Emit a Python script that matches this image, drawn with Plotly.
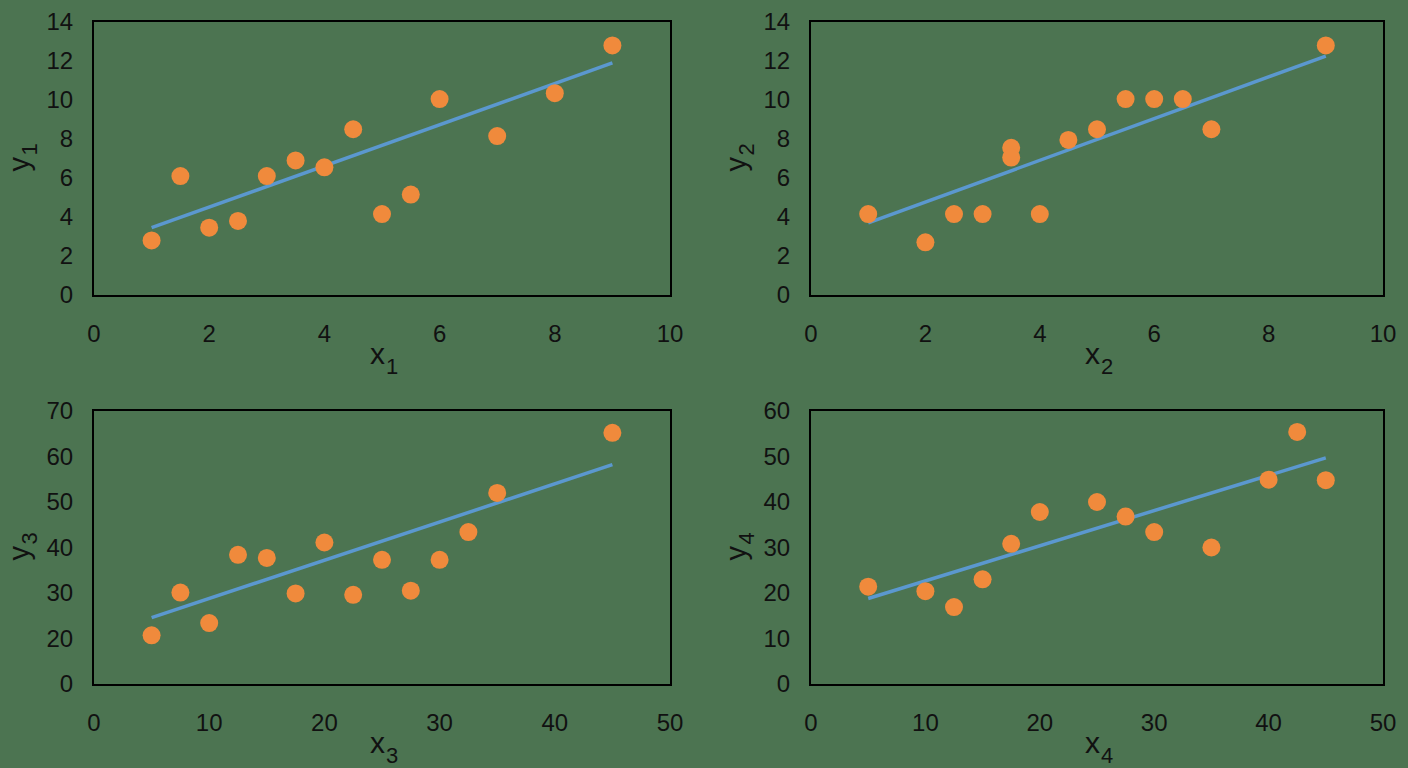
import plotly.graph_objects as go

# ---- data ----
x1 = [1, 1.5, 2, 2.5, 3, 3.5, 4, 4.5, 5, 5.5, 6, 7, 8, 9]
y1 = [2.8, 6.1, 3.45, 3.8, 6.1, 6.9, 6.55, 8.5, 4.15, 5.15, 10.05, 8.15, 10.35, 12.8]
trend_x1 = [1, 9]
trend_y1 = [3.45, 11.9]

x2 = [1, 2, 2.5, 3, 3.5, 3.5, 4, 4.5, 5, 5.5, 6, 6.5, 7, 9]
y2 = [4.15, 2.7, 4.15, 4.15, 7.55, 7.05, 4.15, 7.95, 8.5, 10.05, 10.05, 10.05, 8.5, 12.8]
trend_x2 = [1, 9]
trend_y2 = [3.7, 12.25]

x3 = [5, 7.5, 10, 12.5, 15, 17.5, 20, 22.5, 25, 27.5, 30, 32.5, 35, 45]
y3 = [20.7, 30.1, 23.4, 38.4, 37.7, 29.9, 41.1, 29.6, 37.3, 30.5, 37.3, 43.4, 52.0, 65.2]
trend_x3 = [5, 45]
trend_y3 = [24.6, 58.2]

x4 = [5, 10, 12.5, 15, 17.5, 20, 25, 27.5, 30, 35, 40, 42.5, 45]
y4 = [21.4, 20.4, 16.9, 23.0, 30.8, 37.8, 40.0, 36.8, 33.4, 30.0, 44.9, 55.4, 44.8]
trend_x4 = [5, 45]
trend_y4 = [18.8, 49.7]

x_letters = ["x", "x", "x", "x"]
y_letters = ["y", "y", "y", "y"]
subscripts = ["1", "2", "3", "4"]

x_ranges = [[0, 10], [0, 10], [0, 50], [0, 50]]
x_dticks = [2, 2, 10, 10]
y_ranges = [[0, 14], [0, 14], [10, 70], [0, 60]]
y_tickvals = [
    [0, 2, 4, 6, 8, 10, 12, 14],
    [0, 2, 4, 6, 8, 10, 12, 14],
    [10, 20, 30, 40, 50, 60, 70],
    [0, 10, 20, 30, 40, 50, 60],
]
y_ticktext = [
    ["0", "2", "4", "6", "8", "10", "12", "14"],
    ["0", "2", "4", "6", "8", "10", "12", "14"],
    ["0", "20", "30", "40", "50", "60", "70"],
    ["0", "10", "20", "30", "40", "50", "60"],
]

# ---- styling ----
BG = "#4c7451"
ORANGE = "#f08a3c"
BLUE = "#5b98cf"
INK = "#111111"
FONT = "Liberation Sans, Arial, sans-serif"

W, H = 1408, 768
boxes = [  # left, right, top, bottom in pixels
    (94, 670, 22, 295),
    (811, 1383, 22, 295),
    (94, 670, 411, 684),
    (811, 1383, 411, 684),
]
ytitle_base_x = [0, 717, 0, 717]

fig = go.Figure()
series = [(x1, y1, trend_x1, trend_y1), (x2, y2, trend_x2, trend_y2),
          (x3, y3, trend_x3, trend_y3), (x4, y4, trend_x4, trend_y4)]

for i, (xs, ys, tx, ty) in enumerate(series):
    n = "" if i == 0 else str(i + 1)
    fig.add_trace(go.Scatter(x=tx, y=ty, mode="lines",
                             line=dict(color=BLUE, width=3.5),
                             xaxis="x" + n, yaxis="y" + n, showlegend=False,
                             hoverinfo="skip"))
    fig.add_trace(go.Scatter(x=xs, y=ys, mode="markers",
                             marker=dict(color=ORANGE, size=18, line=dict(width=0)),
                             xaxis="x" + n, yaxis="y" + n, showlegend=False))

layout = dict(
    width=W, height=H,
    paper_bgcolor=BG, plot_bgcolor=BG,
    margin=dict(l=0, r=0, t=0, b=0, autoexpand=False),
    font=dict(family=FONT, color=INK, size=24),
)


def label(text, px, py, size, angle=0):
    return dict(text=text, x=px / W, y=1 - py / H, xref="paper", yref="paper",
                xanchor="center", yanchor="middle", showarrow=False, borderpad=0,
                textangle=angle, font=dict(size=size, family=FONT, color=INK))


annotations = []
for i, (l, r, t, b) in enumerate(boxes):
    n = "" if i == 0 else str(i + 1)
    layout["xaxis" + n] = dict(
        domain=[l / W, r / W], range=x_ranges[i], dtick=x_dticks[i], tick0=0,
        anchor="y" + n, showgrid=False, zeroline=False, automargin=False,
        showline=True, linecolor="black", linewidth=2, mirror=True,
        ticks="", ticklabelstandoff=16,
        tickfont=dict(size=24, family=FONT, color=INK),
    )
    layout["yaxis" + n] = dict(
        domain=[1 - b / H, 1 - t / H], range=y_ranges[i],
        tickvals=y_tickvals[i], ticktext=y_ticktext[i],
        anchor="x" + n, showgrid=False, zeroline=False, automargin=False,
        showline=True, linecolor="black", linewidth=2, mirror=True,
        ticks="", ticklabelstandoff=14,
        tickfont=dict(size=24, family=FONT, color=INK),
    )
    cx = (l + r) / 2
    cy = (t + b) / 2
    # x-axis title: letter + lowered subscript digit
    annotations.append(label(x_letters[i], cx - 5, b + 58, 30))
    annotations.append(label(subscripts[i], cx + 10, b + 71, 22))
    # y-axis title (rotated)
    bx = ytitle_base_x[i]
    annotations.append(label(y_letters[i], bx + 18, cy + 6, 29, -90))
    annotations.append(label(subscripts[i], bx + 29, cy - 9, 22, -90))

layout["annotations"] = annotations
fig.update_layout(**layout)
fig.write_html("out.html")
